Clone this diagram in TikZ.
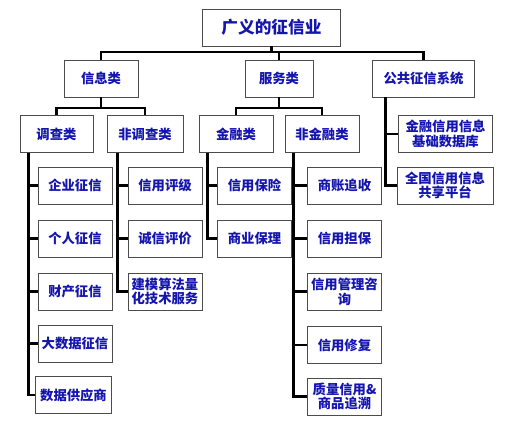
\documentclass[tikz,border=0pt]{standalone}
\usepackage{fontspec}
\setmainfont{Noto Sans CJK SC}
\usepackage{tikz}
\definecolor{txtblue}{RGB}{20,20,175}
\tikzset{
  box/.style={draw=black!70, line width=0.6pt, fill=white, text=txtblue, font=\bfseries\fontsize{10}{11.5}\selectfont,
    minimum width=55.5pt, minimum height=27.75pt, inner sep=1pt, align=center},
  link/.style={line width=2.2pt, line join=miter}
}

\begin{document}
\begin{tikzpicture}[x=0.75pt,y=0.75pt,yscale=-1,xscale=1]
\useasboundingbox (0,0) rectangle (512,426);

% Top node
\node [box, minimum width=104pt, font=\bfseries\fontsize{12.5}{14}\selectfont] (root) at (271.5,27.5) {广义的征信业};

% First level
\node [box] (xinxi) at (101,78.5) {信息类};
\node [box, minimum width=51pt] (fuwu) at (279,78.5) {服务类};
\node [box, minimum width=77pt] (gonggong) at (423.5,78.5) {公共征信系统};

% Second level
\node [box, minimum width=54.75pt] (diaocha) at (56.5,134) {调查类};
\node [box, minimum width=57pt] (feidiaocha) at (145,134) {非调查类};
\node [box] (jinrong) at (236,134) {金融类};
\node [box] (feijinrong) at (322,134) {非金融类};
\node [box, minimum width=71pt, font=\bfseries\fontsize{10}{11}\selectfont] (jichu) at (445.5,134) {金融信用信息\\基础数据库};
\node [box, minimum width=72pt, font=\bfseries\fontsize{10}{11}\selectfont] (pingtai) at (445,185.5) {全国信用信息\\共享平台};

% Third level, 调查类
\node [box] (qiye) at (75,185.5) {企业征信};
\node [box] (geren) at (75,238.5) {个人征信};
\node [box] (caichan) at (75,291.5) {财产征信};
\node [box] (dashuju) at (75,343.5) {大数据征信};
\node [box, minimum width=57pt] (gongying) at (73.5,395) {数据供应商};

% Third level, 非调查类
\node [box] (pingji) at (165,185.5) {信用评级};
\node [box] (chengxin) at (165,238.5) {诚信评价};
\node [box, font=\bfseries\fontsize{10}{11}\selectfont] (jianmo) at (165,291.5) {建模算法量\\化技术服务};

% Third level, 金融类
\node [box, minimum width=56pt] (baoxian) at (254.5,185.5) {信用保险};
\node [box, minimum width=56pt] (baoli) at (254.5,238.5) {商业保理};

% Third level, 非金融类
\node [box, minimum width=56pt] (zhuishou) at (344.5,185.5) {商账追收};
\node [box, minimum width=56pt] (danbao) at (344.5,238.5) {信用担保};
\node [box, minimum width=56pt, font=\bfseries\fontsize{10}{11}\selectfont] (zixun) at (344.5,291.5) {信用管理咨\\询};
\node [box, minimum width=56pt] (xiufu) at (344.5,345) {信用修复};
\node [box, minimum width=56pt, font=\bfseries\fontsize{10}{11}\selectfont] (zhuisu) at (344.5,396.5) {质量信用\&\\商品追溯};

% Bus junctions
\coordinate (j0) at (271.5,52);
\coordinate (j1) at (101,108);
\coordinate (j2) at (279,108);

% Top bus
\draw [link] (root.south) -- (j0);
\draw [link] (j0) -| (xinxi.north);
\draw [link] (j0) -| (fuwu.north);
\draw [link] (j0) -| (gonggong.north);

% Second bus
\draw [link] (xinxi.south) -- (j1);
\draw [link] (j1) -| (diaocha.north);
\draw [link] (j1) -| (feidiaocha.north);
\draw [link] (fuwu.south) -- (j2);
\draw [link] (j2) -| (jinrong.north);
\draw [link] (j2) -| (feijinrong.north);

% Side rails
\foreach \child in {qiye,geren,caichan,dashuju,gongying}
  \draw [link] ([xshift=7]diaocha.south west) |- (\child.west);
\foreach \child in {pingji,chengxin,jianmo}
  \draw [link] ([xshift=8]feidiaocha.south west) |- (\child.west);
\foreach \child in {baoxian,baoli}
  \draw [link] ([xshift=7]jinrong.south west) |- (\child.west);
\foreach \child in {zhuishou,danbao,zixun,xiufu,zhuisu}
  \draw [link] ([xshift=7]feijinrong.south west) |- (\child.west);
\foreach \child in {jichu,pingtai}
  \draw [link] ([xshift=10]gonggong.south west) |- (\child.west);

\end{tikzpicture}
\end{document}
